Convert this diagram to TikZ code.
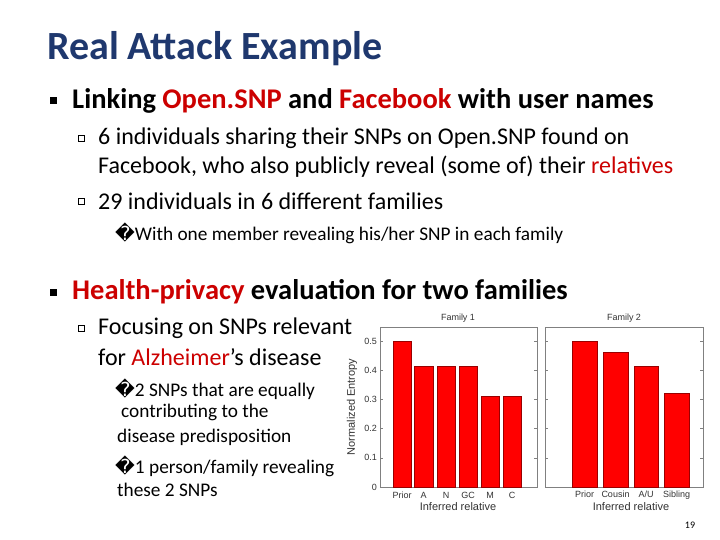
\documentclass[tikz,border=0pt]{standalone}
\usepackage{fontspec}
\setmainfont{Carlito}
\newfontfamily\dv{DejaVu Sans}
\newfontfamily\ar{Liberation Sans}
\definecolor{ttl}{RGB}{31,56,110}
\definecolor{hl}{RGB}{204,0,0}
\definecolor{bar}{RGB}{255,0,0}
\begin{document}
\begin{tikzpicture}[x=1pt,y=-1pt,
 tx/.style={anchor=west,inner sep=0pt,text=black},
 l1/.style={tx,font=\fontsize{28.5}{32}\selectfont\bfseries},
 l2/.style={tx,font=\fontsize{24}{28}\selectfont},
 l3/.style={tx,font=\fontsize{19.3}{22}\selectfont},
 ax/.style={font=\ar\fontsize{9}{10}\selectfont,text=black!80,inner sep=1pt},
 barst/.style={fill=bar,draw=red!60!black,line width=0.4pt}]
\useasboundingbox (0,0) rectangle (720,540);
\fill[white] (0,0) rectangle (720,540);
\node[tx,text=ttl,font=\fontsize{40}{44}\selectfont\bfseries] (t) at (47,49) {Real Attack Example};
\node[tx,font=\fontsize{14}{14}\selectfont] (b1) at (50,101) {\rule{7pt}{7pt}};
\node[l1] (h1) at (72,101) {Linking \textcolor{hl}{Open.SNP} and \textcolor{hl}{Facebook} with user names};
\node[tx] (s1) at (78,138) {\tikz\draw[line width=0.7pt](0,0) rectangle (6pt,6pt);};
\node[l2] (a1) at (98,138) {6 individuals sharing their SNPs on Open.SNP found on};
\node[l2] (a1b) at (98,167) {Facebook, who also publicly reveal (some of) their \textcolor{hl}{relatives}};
\node[tx] (s2) at (78,201) {\tikz\draw[line width=0.7pt](0,0) rectangle (6pt,6pt);};
\node[l2] (a2) at (98,201) {29 individuals in 6 different families};
\node[l3] (a3) at (115,233) {{\dv �}With one member revealing his/her SNP in each family};
\node[tx,font=\fontsize{14}{14}\selectfont] (b2) at (50,292) {\rule{7pt}{7pt}};
\node[l1] (h2) at (72,292) {\textcolor{hl}{Health-privacy} evaluation for two families};
\node[tx] (s3) at (78,328) {\tikz\draw[line width=0.7pt](0,0) rectangle (6pt,6pt);};
\node[l2] (f1) at (98,328) {Focusing on SNPs relevant};
\node[l2] (f2) at (98,357) {for \textcolor{hl}{Alzheimer}’s disease};
\node[l3] (g1) at (115,389) {{\dv �}2 SNPs that are equally};
\node[l3] (g2) at (121,412) {contributing to the};
\node[l3] (g3) at (117,437) {disease predisposition};
\node[l3] (g4) at (115,466) {{\dv �}1 person/family revealing};
\node[l3] (g5) at (117,490) {these 2 SNPs};
% axes
\def\yz{487}\def\ys{292}
\draw[gray,line width=0.6pt] (380,327) rectangle (537,487);
\draw[gray,line width=0.6pt] (545,327) rectangle (703,487);
\foreach \v/\l in {0/0,0.1/0.1,0.2/0.2,0.3/0.3,0.4/0.4,0.5/0.5}{
 \node[ax,anchor=east] (y\l) at (378,{\yz-\v*\ys}) {\l};
 \draw[gray] (380,{\yz-\v*\ys}) -- (383,{\yz-\v*\ys});
 \draw[gray] (545,{\yz-\v*\ys}) -- (548,{\yz-\v*\ys});
 \draw[gray] (537,{\yz-\v*\ys}) -- (534,{\yz-\v*\ys});
 \draw[gray] (703,{\yz-\v*\ys}) -- (700,{\yz-\v*\ys});}
\node[ax,rotate=90,font=\ar\fontsize{11}{12}\selectfont] (yl) at (352,407) {Normalized Entropy};
\node[ax] (ft1) at (458,318) {Family 1};
\node[ax] (ft2) at (624,318) {Family 2};
\foreach \a/\b/\h/\n [count=\i] in {393/411/0.5/Prior,414/433/0.414/A,437/455/0.414/N,459/477/0.414/GC,481/499/0.312/M,503/521/0.312/C}{
 \fill[barst] (\a,\yz) rectangle (\b,{\yz-\h*\ys});
 \node[ax] (xa\i) at ({(\a+\b)/2},495) {\n};}
\foreach \a/\b/\h/\n [count=\i] in {572/597/0.5/Prior,603/628/0.46/Cousin,634/658/0.414/{A/U},664/689/0.32/Sibling}{
 \fill[barst] (\a,\yz) rectangle (\b,{\yz-\h*\ys});
 \node[ax,text height=7pt,text depth=2pt] (xb\i) at ({(\a+\b)/2},495) {\n};}
\node[ax,font=\ar\fontsize{11}{12}\selectfont] (xl1) at (458,507) {Inferred relative};
\node[ax,font=\ar\fontsize{11}{12}\selectfont] (xl2) at (631,507) {Inferred relative};
\node[font=\fontsize{10}{12}\selectfont] (pg) at (690,525) {19};
\end{tikzpicture}
\end{document}
